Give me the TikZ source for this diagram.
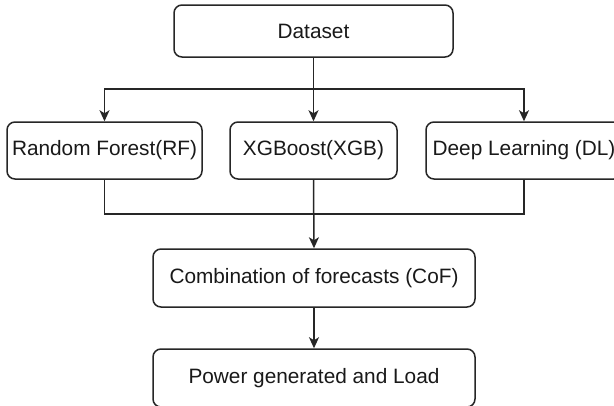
\documentclass[tikz,border=0pt]{standalone}
\usepackage{fontspec}
\setmainfont{Liberation Sans}
\usetikzlibrary{arrows.meta}

\tikzset{
  box/.style={draw=black!85, line width=1.5pt, rounded corners=8pt, fill=white,
    text=black!90, inner sep=0pt, font=\fontsize{20.8}{24}\selectfont},
  link/.style={draw=black!85, line width=1.5pt},
  arr/.style={link, -{Stealth[length=11pt, width=10pt, inset=3pt]}},
}

\begin{document}
\begin{tikzpicture}[x=1pt, y=-1pt]
  \useasboundingbox (0,0) rectangle (614,405);
  \clip (0,0) rectangle (614,405);
  \fill[white] (0,0) rectangle (614,405);

  % process boxes
  \node[box, minimum width=279pt, minimum height=52pt] (ds)  at (313.5,31)   {Dataset};
  \node[box, minimum width=195pt, minimum height=57pt] (rf)  at (104.5,150.5) {Random Forest(RF)};
  \node[box, minimum width=167pt, minimum height=57pt] (xgb) at (313.5,150.5) {XGBoost(XGB)};
  \node[box, minimum width=196pt, minimum height=57pt] (dl)  at (524,150.5)   {Deep Learning (DL)};
  \node[box, minimum width=322pt, minimum height=58pt] (cof) at (314,278)     {Combination of forecasts (CoF)};
  \node[box, minimum width=322pt, minimum height=58pt] (pow) at (314,378)     {Power generated and Load};

  % split and merge points
  \coordinate (split) at (313.5,89);
  \coordinate (merge) at (313.5,214);

  % dataset fans out to the three models
  \draw[link] (ds.south) -- (split);
  \draw[arr] (split) -| (rf.north);
  \draw[arr] (split) -- (xgb.north);
  \draw[arr] (split) -| (dl.north);

  % models merge into the forecast combination
  \draw[link] (rf.south) |- (merge);
  \draw[link] (dl.south) |- (merge);
  \draw[arr] (xgb.south) -- (cof.north);

  % combination gives the final output
  \draw[arr] (cof.south) -- (pow.north);
\end{tikzpicture}
\end{document}
